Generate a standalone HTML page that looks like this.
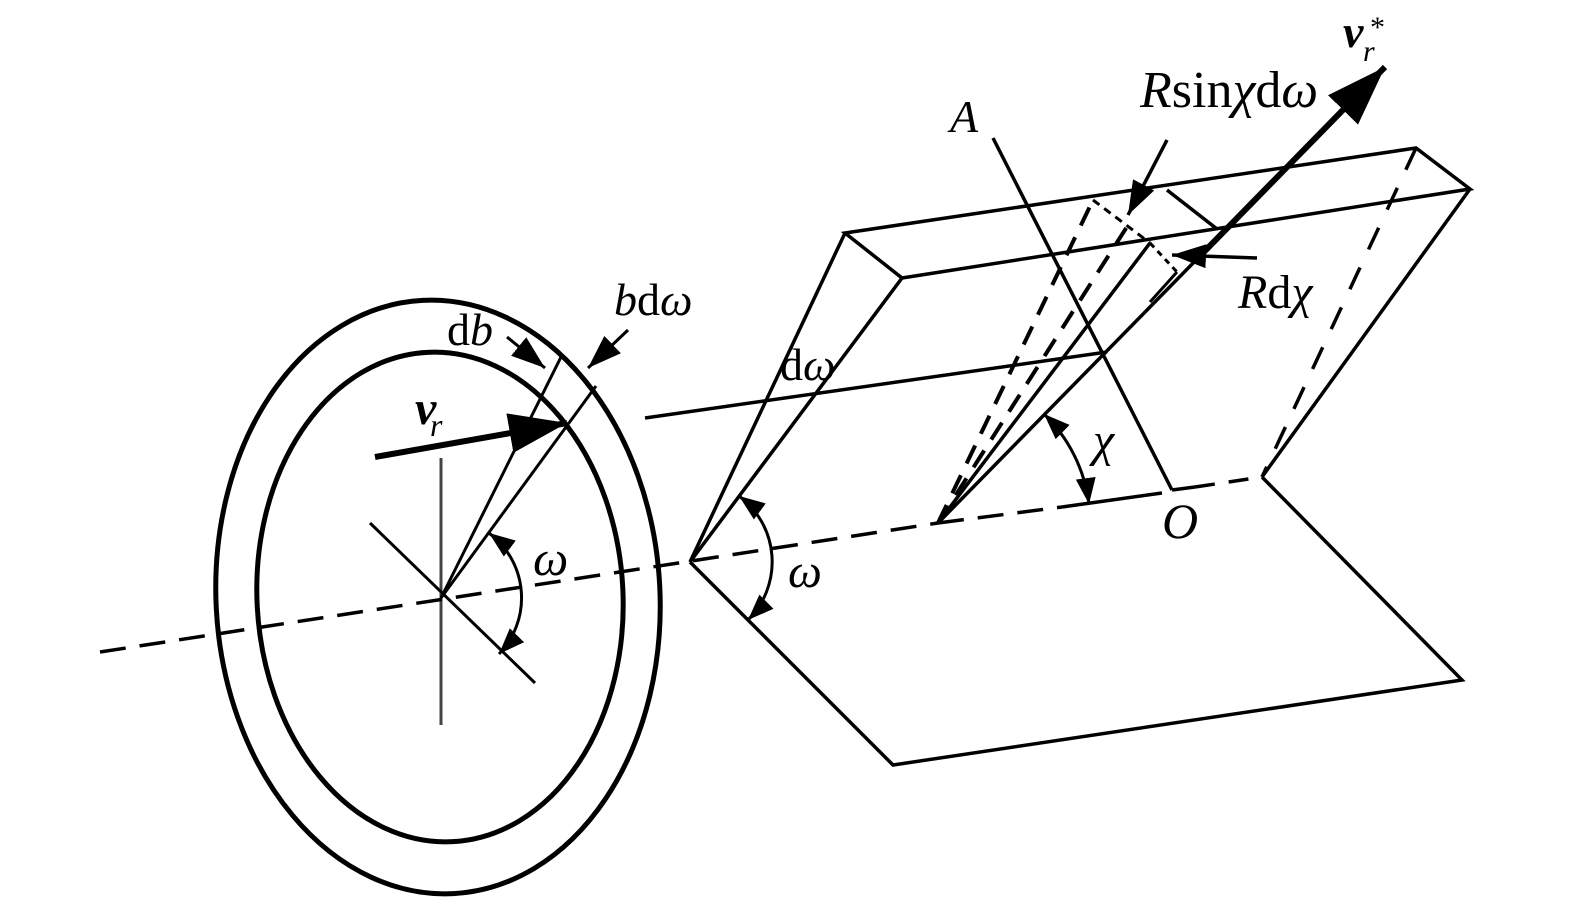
<!DOCTYPE html>
<html>
<head>
<meta charset="utf-8">
<style>
html,body{margin:0;padding:0;background:#fff;}
svg{display:block;}
text{font-family:"Liberation Serif","DejaVu Serif",serif;fill:#000;}
.i{font-style:italic;}
.bi{font-style:italic;font-weight:bold;}
</style>
</head>
<body>
<svg width="1575" height="902" viewBox="0 0 1575 902" xmlns="http://www.w3.org/2000/svg">
<defs>
<marker id="big" viewBox="0 0 10 10" refX="10" refY="5" markerUnits="userSpaceOnUse" markerWidth="58" markerHeight="40" orient="auto" preserveAspectRatio="none"><path d="M0,0 L10,5 L0,10 z" fill="#000"/></marker>
<marker id="big2" viewBox="0 0 10 10" refX="10" refY="5" markerUnits="userSpaceOnUse" markerWidth="60" markerHeight="42" orient="auto" preserveAspectRatio="none"><path d="M0,0 L10,5 L0,10 z" fill="#000"/></marker>
<marker id="med" viewBox="0 0 10 10" refX="10" refY="5" markerUnits="userSpaceOnUse" markerWidth="34" markerHeight="24" orient="auto" preserveAspectRatio="none"><path d="M0,0 L10,5 L0,10 z" fill="#000"/></marker>
<marker id="arc" viewBox="0 0 10 10" refX="10" refY="5" markerUnits="userSpaceOnUse" markerWidth="26" markerHeight="20" orient="auto-start-reverse" preserveAspectRatio="none"><path d="M0,0 L10,5 L0,10 z" fill="#000"/></marker>
</defs>

<g fill="none" stroke="#000" stroke-linecap="butt" stroke-linejoin="miter">
  <!-- ring -->
  <ellipse cx="438" cy="597" rx="222" ry="297" transform="rotate(-3 438 597)" stroke-width="5"/>
  <ellipse cx="440" cy="597" rx="183" ry="245" transform="rotate(-3 440 597)" stroke-width="5"/>

  <!-- center cross -->
  <line x1="441" y1="458" x2="441" y2="725" stroke="#444" stroke-width="3"/>
  <line x1="370" y1="523" x2="535" y2="683" stroke-width="3"/>

  <!-- dashed axis -->
  <line x1="100" y1="652" x2="938" y2="523" stroke-width="3.5" stroke-dasharray="26 14"/>

  <!-- radial lines -->
  <line x1="441" y1="598" x2="562" y2="355" stroke-width="3"/>
  <line x1="441" y1="598" x2="596" y2="386" stroke-width="3"/>

  <!-- v_r arrow -->
  <line x1="375" y1="457" x2="567" y2="423" stroke-width="6" marker-end="url(#big)"/>

  <!-- omega arc at ring center -->
  <path d="M489,533 A81,81 0 0 1 499,654" stroke-width="3" marker-start="url(#arc)" marker-end="url(#arc)"/>

  <!-- db and bdω arrows -->
  <line x1="507" y1="337" x2="545" y2="368" stroke-width="3" marker-end="url(#med)"/>
  <line x1="628" y1="330" x2="588" y2="368" stroke-width="3" marker-end="url(#med)"/>

  <!-- ray line -->
  <line x1="645" y1="418" x2="1107" y2="352" stroke-width="3.5"/>

  <!-- slab top face -->
  <polygon points="845,233 1416,148 1470,189 902,278" stroke-width="3.5"/>
  <line x1="845" y1="233" x2="690" y2="562" stroke-width="3.5"/>
  <line x1="902" y1="278" x2="690" y2="562" stroke-width="3.5"/>
  <line x1="1470" y1="189" x2="1262" y2="477" stroke-width="3.5"/>
  <line x1="1416" y1="148" x2="1262" y2="477" stroke-width="3.5" stroke-dasharray="24 20"/>

  <!-- lower plane -->
  <polyline points="690,562 893,765 1462,680 1262,477" stroke-width="3.5"/>

  <!-- base line beyond apex -->
  <line x1="938" y1="523" x2="1062" y2="507" stroke-width="3.5" stroke-dasharray="26 14"/>
  <line x1="1062" y1="507" x2="1162" y2="493" stroke-width="3.5"/>
  <line x1="1172" y1="490" x2="1195" y2="487" stroke-width="3.5"/>
  <line x1="1195" y1="487" x2="1262" y2="477" stroke-width="3.5" stroke-dasharray="20 14"/>

  <!-- A line -->
  <line x1="993" y1="138" x2="1172" y2="490" stroke-width="3.5"/>

  <!-- omega arc at V -->
  <path d="M739,496 A82,82 0 0 1 748,620" stroke-width="3" marker-start="url(#arc)" marker-end="url(#arc)"/>

  <!-- cone lines from apex -->
  <line x1="938" y1="523" x2="1200" y2="256" stroke-width="3.5"/>
  <line x1="1200" y1="256" x2="1385" y2="67" stroke-width="6" marker-end="url(#big2)"/>
  <line x1="938" y1="523" x2="1150" y2="243" stroke-width="3.5"/>
  <line x1="938" y1="523" x2="1093" y2="200" stroke-width="4" stroke-dasharray="20 13"/>
  <line x1="938" y1="523" x2="1130" y2="222" stroke-width="4" stroke-dasharray="20 13"/>

  <!-- area element -->
  <line x1="1093" y1="200" x2="1150" y2="243" stroke-width="3" stroke-dasharray="8 6"/>
  <line x1="1167" y1="190" x2="1217" y2="229" stroke-width="3.5"/>
  <line x1="1150" y1="243" x2="1177" y2="272" stroke-width="3" stroke-dasharray="6 5"/>
  <line x1="1177" y1="272" x2="1150" y2="302" stroke-width="3"/>

  <!-- chi arc -->
  <path d="M1044,414 A152,152 0 0 1 1089,504" stroke-width="3" marker-start="url(#arc)" marker-end="url(#arc)"/>

  <!-- Rsinχdω and Rdχ arrows -->
  <line x1="1167" y1="140" x2="1128" y2="215" stroke-width="3.5" marker-end="url(#med)"/>
  <line x1="1257" y1="258" x2="1172" y2="255" stroke-width="3.5" marker-end="url(#med)"/>
</g>

<!-- labels -->
<text x="447" y="345" font-size="46">d<tspan class="i">b</tspan></text>
<text x="614" y="315" font-size="46"><tspan class="i">b</tspan>d<tspan class="i">ω</tspan></text>
<text x="415" y="424" font-size="48" class="bi">v</text>
<text x="430" y="436" font-size="32" class="i">r</text>
<text x="533" y="575" font-size="50" class="i">ω</text>
<text x="780" y="380" font-size="46">d<tspan class="i">ω</tspan></text>
<text x="788" y="587" font-size="48" class="i">ω</text>
<text x="1093" y="456" font-size="48" class="i">χ</text>
<text x="1162" y="538" font-size="50" class="i">O</text>
<text x="950" y="132" font-size="46" class="i">A</text>
<text x="1140" y="107" font-size="52"><tspan class="i">R</tspan>sin<tspan class="i">χ</tspan>d<tspan class="i">ω</tspan></text>
<text x="1238" y="308" font-size="48"><tspan class="i">R</tspan>d<tspan class="i">χ</tspan></text>
<text x="1343" y="47" font-size="46" class="bi">v</text>
<text x="1363" y="61" font-size="30" class="i">r</text>
<text x="1370" y="37" font-size="30">*</text>
</svg>
</body>
</html>
